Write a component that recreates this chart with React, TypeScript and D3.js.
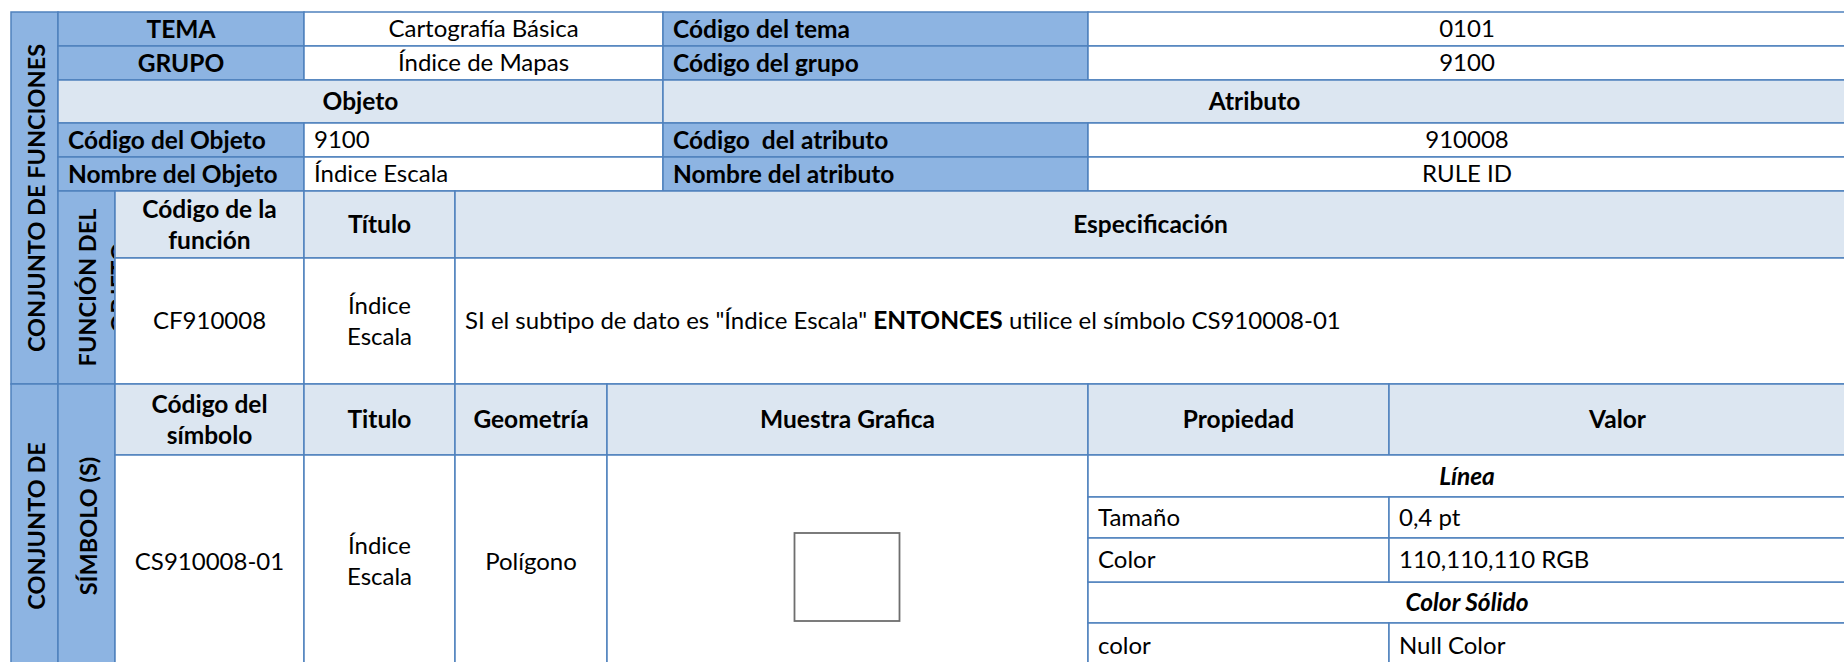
import React, { useEffect, useRef } from 'react'
import * as d3 from 'd3'

// text content of the sheet
const sideTitles = ['CONJUNTO DE FUNCIONES', 'CONJUNTO DE']
const objFuncTitle = ['FUNCIÓN DEL', 'OBJETO']
const symTitle = ['SÍMBOLO (S)']
const topLabels = ['TEMA', 'GRUPO']
const topValues = ['Cartografía Básica', 'Índice de Mapas']
const codeLabels = ['Código del tema', 'Código del grupo']
const codeValues = ['0101', '9100']
const sectionHeads = ['Objeto', 'Atributo']
const objectLabels = ['Código del Objeto', 'Nombre del Objeto']
const objectValues = ['9100', 'Índice Escala']
const attrLabels = ['Código  del atributo', 'Nombre del atributo']
const attrValues = ['910008', 'RULE ID']
const funcHeads = [['Código de la', 'función'], ['Título'], ['Especificación']]
const funcCode = 'CF910008'
const funcTitle = ['Índice', 'Escala']
const specParts = [
  { t: 'SI el subtipo de dato es "Índice Escala" ', b: false },
  { t: 'ENTONCES', b: true },
  { t: ' utilice el símbolo CS910008-01', b: false }
]
const symHeads = [['Código del', 'símbolo'], ['Titulo'], ['Geometría'], ['Muestra Grafica'], ['Propiedad'], ['Valor']]
const symCode = 'CS910008-01'
const symTitleVal = ['Índice', 'Escala']
const symGeom = 'Polígono'
const propGroups = ['Línea', 'Color Sólido']
const propNames = ['Tamaño', 'Color', 'color']
const propValues = ['0,4 pt', '110,110,110 RGB', 'Null Color']

// grid lines of the sheet
const colEdges = [11, 58, 115, 304, 455, 607, 663, 1088, 1389, 1846]
const rowEdges = [12, 46, 80, 123, 157, 191, 258, 384, 455, 497, 538, 582, 623, 668]

const LABEL = '#8db4e2'
const HEAD = '#dce6f1'
const WHITE = '#ffffff'
const BORDER = '#4f81bd'
const FONT = 'Lato, "Open Sans", sans-serif'
const FS = 24
const FS_BOLD = 24.5

const App = () => {
  const ref = useRef(null)

  useEffect(() => {
    document.body.style.margin = '0'
    const x = d3.scaleLinear().domain(d3.range(colEdges.length)).range(colEdges)
    const y = d3.scaleLinear().domain(d3.range(rowEdges.length)).range(rowEdges)

    const cells = []
    const add = (c, r, fill, lines, opts = {}) => cells.push({ c, r, fill, lines, ...opts })

    add([0, 1], [0, 7], LABEL, [sideTitles[0]], { bold: true, rot: true })
    topLabels.forEach((t, i) => {
      add([1, 3], [i, i + 1], LABEL, [t], { bold: true })
      add([3, 6], [i, i + 1], WHITE, [topValues[i]])
      add([6, 7], [i, i + 1], LABEL, [codeLabels[i]], { bold: true, left: true })
      add([7, 9], [i, i + 1], WHITE, [codeValues[i]])
    })
    add([1, 6], [2, 3], HEAD, [sectionHeads[0]], { bold: true })
    add([6, 9], [2, 3], HEAD, [sectionHeads[1]], { bold: true })
    objectLabels.forEach((t, i) => {
      add([1, 3], [3 + i, 4 + i], LABEL, [t], { bold: true, left: true })
      add([3, 6], [3 + i, 4 + i], WHITE, [objectValues[i]], { left: true })
      add([6, 7], [3 + i, 4 + i], LABEL, [attrLabels[i]], { bold: true, left: true })
      add([7, 9], [3 + i, 4 + i], WHITE, [attrValues[i]])
    })
    add([1, 2], [5, 7], LABEL, objFuncTitle, { bold: true, rot: true, clip: true })
    const funcCols = [[2, 3], [3, 4], [4, 9]]
    funcHeads.forEach((h, i) => add(funcCols[i], [5, 6], HEAD, h, { bold: true }))
    add([2, 3], [6, 7], WHITE, [funcCode])
    add([3, 4], [6, 7], WHITE, funcTitle)
    add([4, 9], [6, 7], WHITE, [], { spec: true })

    add([0, 1], [7, 13], LABEL, [sideTitles[1]], { bold: true, rot: true })
    add([1, 2], [7, 13], LABEL, symTitle, { bold: true, rot: true })
    const symCols = [[2, 3], [3, 4], [4, 5], [5, 7], [7, 8], [8, 9]]
    symHeads.forEach((h, i) => add(symCols[i], [7, 8], HEAD, h, { bold: true }))
    add([2, 3], [8, 13], WHITE, [symCode])
    add([3, 4], [8, 13], WHITE, symTitleVal)
    add([4, 5], [8, 13], WHITE, [symGeom])
    add([5, 7], [8, 13], WHITE, [], { sample: true })
    add([7, 9], [8, 9], WHITE, [propGroups[0]], { bold: true, italic: true })
    add([7, 9], [11, 12], WHITE, [propGroups[1]], { bold: true, italic: true })
    const propRows = [9, 10, 12]
    propNames.forEach((t, i) => {
      add([7, 8], [propRows[i], propRows[i] + 1], WHITE, [t], { left: true })
      add([8, 9], [propRows[i], propRows[i] + 1], WHITE, [propValues[i]], { left: true })
    })

    const svg = d3.select(ref.current)
      .attr('width', 1844)
      .attr('height', 662)
      .style('display', 'block')
      .style('font-family', FONT)
      .style('font-size', FS + 'px')
    svg.selectAll('*').remove()
    const defs = svg.append('defs')

    const g = svg.selectAll('g.cell')
      .data(cells)
      .join('g')
      .attr('class', 'cell')

    g.append('rect')
      .attr('x', d => x(d.c[0]))
      .attr('y', d => y(d.r[0]))
      .attr('width', d => x(d.c[1]) - x(d.c[0]))
      .attr('height', d => y(d.r[1]) - y(d.r[0]))
      .attr('fill', d => d.fill)
      .attr('stroke', BORDER)
      .attr('stroke-width', 1.5)

    const lineGap = 31
    g.each(function (d, idx) {
      const cell = d3.select(this)
      const x0 = x(d.c[0]), x1 = x(d.c[1]), y0 = y(d.r[0]), y1 = y(d.r[1])
      const cx = (x0 + x1) / 2, cy = (y0 + y1) / 2
      let holder = cell
      if (d.clip) {
        const id = 'clip' + idx
        defs.append('clipPath').attr('id', id)
          .append('rect').attr('x', x0 + 1).attr('y', y0 + 1)
          .attr('width', x1 - x0 - 2).attr('height', y1 - y0 - 2)
        holder = cell.append('g').attr('clip-path', `url(#${id})`)
      }
      if (d.rot) {
        const first = d.clip ? cx + 1 : cx + 2
        d.lines.forEach((t, i) => {
          const lx = first + i * 32
          holder.append('text')
            .attr('transform', `translate(${lx},${cy}) rotate(-90)`)
            .attr('text-anchor', 'middle')
            .attr('dy', '0.35em')
            .attr('font-weight', 700)
            .attr('font-size', 23.5)
            .text(t)
        })
        return
      }
      if (d.spec) {
        const txt = cell.append('text')
          .attr('x', x0 + 10)
          .attr('y', cy)
          .attr('dy', '0.35em')
          .style('white-space', 'pre')
        specParts.forEach(p => {
          txt.append('tspan')
            .attr('font-weight', p.b ? 700 : 400)
            .attr('font-size', p.b ? FS_BOLD : FS)
            .text(p.t)
        })
        return
      }
      if (d.sample) {
        cell.append('rect')
          .attr('x', cx - 53)
          .attr('y', y0 + 78)
          .attr('width', 105)
          .attr('height', 88)
          .attr('fill', 'none')
          .attr('stroke', 'rgb(110,110,110)')
          .attr('stroke-width', 1.8)
        return
      }
      const n = d.lines.length
      d.lines.forEach((t, i) => {
        cell.append('text')
          .attr('x', d.left ? x0 + 10 : cx)
          .attr('y', cy + (i - (n - 1) / 2) * lineGap)
          .attr('dy', '0.35em')
          .attr('text-anchor', d.left ? 'start' : 'middle')
          .attr('font-weight', d.bold ? 700 : 400)
          .attr('font-size', d.bold ? FS_BOLD : FS)
          .attr('font-style', d.italic ? 'italic' : 'normal')
          .style('white-space', 'pre')
          .text(t)
      })
    })
  })

  return (
    <div id="tableArea">
      <svg ref={ref}></svg>
    </div>
  )
}

export default App
